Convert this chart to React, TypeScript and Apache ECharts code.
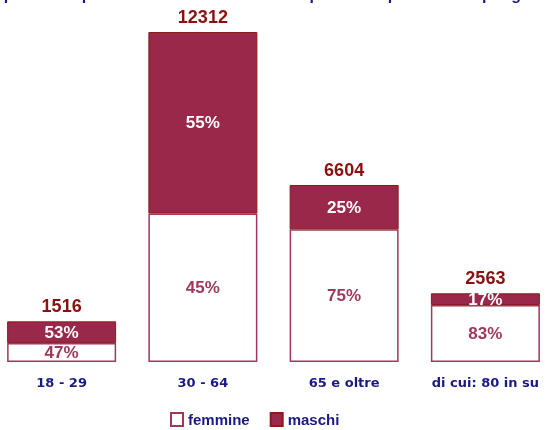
import React, { useEffect, useRef } from "react";
import * as echarts from "echarts";

const categories = ["18 - 29", "30 - 64", "65 e oltre", "di cui: 80 in su"];
const totals = [1516, 12312, 6604, 2563];
const femminePct = [47, 45, 75, 83];
const maschiPct = [53, 55, 25, 17];
const seriesNames = ["femmine", "maschi"];
const titleText = "Popolazione per classe di età: totale e composizione percentuale per genere";

export default function App() {
  const ref = useRef<HTMLDivElement>(null);
  useEffect(() => {
    const chart = echarts.init(ref.current!, null, { renderer: "svg" });
    const femmine = totals.map((t, i) => (t * femminePct[i]) / 100);
    const maschi = totals.map((t, i) => (t * maschiPct[i]) / 100);
    const font = "'Liberation Sans', Arial, sans-serif";
    const wide = "'DejaVu Sans', sans-serif";
    chart.setOption({
      animation: false,
      textStyle: { fontFamily: font },
      graphic: [
        {
          type: "text",
          left: "center",
          top: -14,
          style: {
            text: titleText,
            font: `bold 16px ${font}`,
            fill: "#1a1a86",
          },
        },
      ],
      legend: {
        data: seriesNames,
        top: 407,
        left: 174,
        icon: "rect",
        itemWidth: 12,
        itemHeight: 13,
        itemGap: 20,
        textStyle: { color: "#1a1a86", fontWeight: "bold", fontSize: 15, fontFamily: font },
      },
      grid: { left: 0, right: 0, top: 20, bottom: 68 },
      xAxis: {
        type: "category",
        data: categories,
        axisLine: { show: false },
        axisTick: { show: false },
        axisLabel: {
          margin: 14,
          color: "#1a1a86",
          fontWeight: "bold",
          fontSize: 13,
          fontFamily: wide,
        },
      },
      yAxis: { type: "value", min: 0, max: 12760, show: false, splitLine: { show: false } },
      series: [
        {
          name: seriesNames[0],
          type: "bar",
          stack: "a",
          barWidth: 109,
          data: femmine,
          itemStyle: { color: "#ffffff", borderColor: "#a0385a", borderWidth: 1.5 },
          label: {
            show: true,
            position: "inside",
            formatter: (p: any) => femminePct[p.dataIndex] + "%",
            color: "#a0385a",
            fontWeight: "bold",
            fontSize: 17,
            fontFamily: font,
          },
        },
        {
          name: seriesNames[1],
          type: "bar",
          stack: "a",
          barWidth: 109,
          data: maschi,
          itemStyle: { color: "#99284a", borderColor: "#8b1a1a", borderWidth: 1 },
          label: {
            show: true,
            position: "inside",
            formatter: (p: any) => maschiPct[p.dataIndex] + "%",
            color: "#ffffff",
            fontWeight: "bold",
            fontSize: 17,
            fontFamily: font,
          },
        },
        {
          name: "totale",
          type: "bar",
          stack: "a",
          barWidth: 109,
          data: totals.map(() => 0),
          itemStyle: { color: "transparent" },
          label: {
            show: true,
            position: "top",
            distance: 6,
            formatter: (p: any) => String(totals[p.dataIndex]),
            color: "#8b1010",
            fontWeight: "bold",
            fontSize: 18,
            fontFamily: font,
          },
        },
      ],
    });
    return () => chart.dispose();
  }, []);
  return <div ref={ref} style={{ position: "fixed", left: -9, top: 0, width: 565, height: 430 }} />;
}
